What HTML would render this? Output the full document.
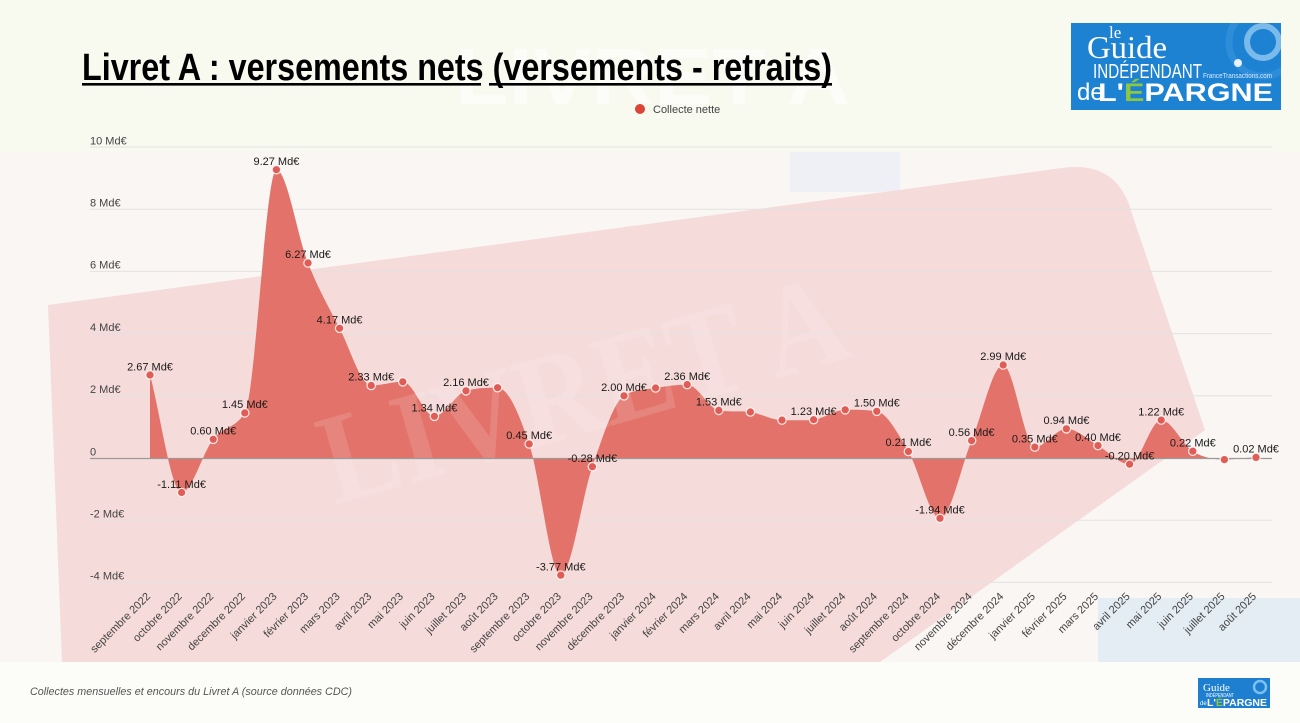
<!DOCTYPE html>
<html><head><meta charset="utf-8">
<style>
html,body{margin:0;padding:0;width:1300px;height:723px;overflow:hidden;background:#fcfdf8}
svg{display:block}
</style></head>
<body>
<svg width="1300" height="723" viewBox="0 0 1300 723" xmlns="http://www.w3.org/2000/svg" font-family="'Liberation Sans', sans-serif">
<defs>
<clipPath id="logoclip"><rect x="1071" y="23" width="210" height="87"/></clipPath>
<clipPath id="slogoclip"><rect x="1198" y="678" width="72" height="30"/></clipPath>
</defs>
<!-- background -->
<rect x="0" y="0" width="1300" height="723" fill="#fcfdf8"/>
<rect x="0" y="152" width="1300" height="510" fill="#f9f6f4"/>
<rect x="790" y="152" width="110" height="40" fill="#eef0f5"/>
<path d="M48,305 L1062,168 Q1118,160 1132,214 L1205,430 L880,662 L62,662 Z" fill="#f5dbd9"/>
<rect x="1098" y="598" width="202" height="64" fill="#e4ecf4"/>
<rect x="0" y="0" width="1300" height="152" fill="#f8f9ef"/>
<text x="455" y="104" font-family="'Liberation Sans', sans-serif" font-weight="bold" font-size="80" fill="#ffffff" opacity="0.6" textLength="395" lengthAdjust="spacingAndGlyphs">LIVRET A</text>

<!-- title -->
<text x="82" y="80" font-weight="bold" font-size="38" fill="#000" textLength="750" lengthAdjust="spacingAndGlyphs">Livret A : versements nets (versements - retraits)</text>
<rect x="82" y="83" width="399" height="2.6" fill="#000"/>
<rect x="489" y="83" width="343" height="2.6" fill="#000"/>

<!-- legend -->
<circle cx="640" cy="109" r="5" fill="#db4437"/>
<text x="653" y="113" font-size="11" fill="#444">Collecte nette</text>

<!-- gridlines -->
<g stroke="#e4e2e0" stroke-width="1">
<line x1="90" y1="147" x2="1272" y2="147"/>
<line x1="90" y1="209.2" x2="1272" y2="209.2"/>
<line x1="90" y1="271.4" x2="1272" y2="271.4"/>
<line x1="90" y1="333.6" x2="1272" y2="333.6"/>
<line x1="90" y1="395.8" x2="1272" y2="395.8"/>
<line x1="90" y1="520.2" x2="1272" y2="520.2"/>
<line x1="90" y1="582.4" x2="1272" y2="582.4"/>
</g>

<!-- y labels -->
<g font-size="11" fill="#444">
<text x="90" y="144.5">10 Md€</text>
<text x="90" y="206.5">8 Md€</text>
<text x="90" y="268.5">6 Md€</text>
<text x="90" y="331">4 Md€</text>
<text x="90" y="393">2 Md€</text>
<text x="90" y="455.5">0</text>
<text x="90" y="517.5">-2 Md€</text>
<text x="90" y="579.5">-4 Md€</text>
</g>

<!-- area -->
<path d="M150,458 L150,375 C160.5,414.2 171.1,492.5 181.6,492.5 C192.1,492.5 202.7,452.6 213.2,439.3 C223.7,426.0 234.3,429.6 244.8,412.9 C255.3,396.2 265.9,169.7 276.4,169.7 C286.9,169.7 297.5,236.6 308,263 C318.5,289.4 329.1,307.9 339.6,328.3 C350.1,348.7 360.7,385.5 371.2,385.5 C381.7,385.5 392.3,381.8 402.8,381.8 C413.3,381.8 423.9,416.3 434.4,416.3 C444.9,416.3 455.5,393.8 466,390.8 C476.5,387.8 487.1,387.7 497.6,387.7 C508.1,387.7 518.7,412.7 529.2,444 C539.7,475.3 550.3,575.2 560.8,575.2 C571.3,575.2 581.9,496.6 592.4,466.7 C602.9,436.8 613.5,402.5 624,395.8 C634.5,389.1 645.1,389.9 655.6,388 C666.1,386.1 676.7,384.6 687.2,384.6 C697.7,384.6 708.3,408.4 718.8,410.4 C729.3,412.4 739.9,410.4 750.4,412 C760.9,413.6 771.5,420.1 782,420.1 C792.5,420.1 803.1,420.7 813.6,419.7 C824.1,418.7 834.7,409.8 845.2,409.8 C855.7,409.8 866.3,409.6 876.8,411.3 C887.3,413 897.9,433.7 908.4,451.5 C918.9,469.3 929.5,518.3 940,518.3 C950.5,518.3 961.1,466.2 971.6,440.6 C982.1,415 992.7,365 1003.2,365 C1013.7,365 1024.3,447.1 1034.8,447.1 C1045.3,447.1 1055.9,428.8 1066.4,428.8 C1076.9,428.8 1087.5,439.7 1098,445.6 C1108.5,451.5 1119.1,464.2 1129.6,464.2 C1140.1,464.2 1150.7,420.1 1161.2,420.1 C1171.7,420.1 1182.3,444.6 1192.8,451.2 C1203.3,457.8 1213.9,459.6 1224.4,459.6 C1234.9,459.6 1245.5,457.4 1256,457.4 L1256,458 Z" fill="#e3736a"/>

<!-- faint background lettering -->
<text transform="translate(335,505) rotate(-16)" font-family="'Liberation Serif', serif" font-weight="bold" font-size="130" fill="#ffffff" opacity="0.13" textLength="540" lengthAdjust="spacingAndGlyphs">LIVRET A</text>

<!-- zero baseline -->
<line x1="90" y1="458.5" x2="1272" y2="458.5" stroke="#9a9a9a" stroke-width="1.3"/>

<!-- points -->
<g fill="#e05c54" stroke="#ffffff" stroke-width="1.2" stroke-opacity="0.85">
<circle cx="150" cy="375" r="4.2"/>
<circle cx="181.6" cy="492.5" r="4.2"/>
<circle cx="213.2" cy="439.3" r="4.2"/>
<circle cx="244.8" cy="412.9" r="4.2"/>
<circle cx="276.4" cy="169.7" r="4.2"/>
<circle cx="308" cy="263" r="4.2"/>
<circle cx="339.6" cy="328.3" r="4.2"/>
<circle cx="371.2" cy="385.5" r="4.2"/>
<circle cx="402.8" cy="381.8" r="4.2"/>
<circle cx="434.4" cy="416.3" r="4.2"/>
<circle cx="466" cy="390.8" r="4.2"/>
<circle cx="497.6" cy="387.7" r="4.2"/>
<circle cx="529.2" cy="444" r="4.2"/>
<circle cx="560.8" cy="575.2" r="4.2"/>
<circle cx="592.4" cy="466.7" r="4.2"/>
<circle cx="624" cy="395.8" r="4.2"/>
<circle cx="655.6" cy="388" r="4.2"/>
<circle cx="687.2" cy="384.6" r="4.2"/>
<circle cx="718.8" cy="410.4" r="4.2"/>
<circle cx="750.4" cy="412" r="4.2"/>
<circle cx="782" cy="420.1" r="4.2"/>
<circle cx="813.6" cy="419.7" r="4.2"/>
<circle cx="845.2" cy="409.8" r="4.2"/>
<circle cx="876.8" cy="411.3" r="4.2"/>
<circle cx="908.4" cy="451.5" r="4.2"/>
<circle cx="940" cy="518.3" r="4.2"/>
<circle cx="971.6" cy="440.6" r="4.2"/>
<circle cx="1003.2" cy="365" r="4.2"/>
<circle cx="1034.8" cy="447.1" r="4.2"/>
<circle cx="1066.4" cy="428.8" r="4.2"/>
<circle cx="1098" cy="445.6" r="4.2"/>
<circle cx="1129.6" cy="464.2" r="4.2"/>
<circle cx="1161.2" cy="420.1" r="4.2"/>
<circle cx="1192.8" cy="451.2" r="4.2"/>
<circle cx="1224.4" cy="459.6" r="4.2"/>
<circle cx="1256" cy="457.4" r="4.2"/>
</g>

<!-- data labels -->
<g font-size="11" fill="#1a1a1a" text-anchor="middle">
<text x="150" y="370.5">2.67 Md€</text>
<text x="181.6" y="488">-1.11 Md€</text>
<text x="213.2" y="434.5">0.60 Md€</text>
<text x="244.8" y="408">1.45 Md€</text>
<text x="276.4" y="165">9.27 Md€</text>
<text x="308" y="258">6.27 Md€</text>
<text x="339.6" y="323.5">4.17 Md€</text>
<text x="371.2" y="380.5">2.33 Md€</text>
<text x="434.4" y="411.5">1.34 Md€</text>
<text x="466" y="386">2.16 Md€</text>
<text x="529.2" y="439">0.45 Md€</text>
<text x="560.8" y="570.5">-3.77 Md€</text>
<text x="592.4" y="462">-0.28 Md€</text>
<text x="624" y="391">2.00 Md€</text>
<text x="687.2" y="380">2.36 Md€</text>
<text x="718.8" y="405.5">1.53 Md€</text>
<text x="813.6" y="415">1.23 Md€</text>
<text x="876.8" y="406.5">1.50 Md€</text>
<text x="908.4" y="446">0.21 Md€</text>
<text x="940" y="513.5">-1.94 Md€</text>
<text x="971.6" y="436">0.56 Md€</text>
<text x="1003.2" y="360">2.99 Md€</text>
<text x="1034.8" y="442.5">0.35 Md€</text>
<text x="1066.4" y="424">0.94 Md€</text>
<text x="1098" y="441">0.40 Md€</text>
<text x="1129.6" y="459.5">-0.20 Md€</text>
<text x="1161.2" y="415.5">1.22 Md€</text>
<text x="1192.8" y="446.5">0.22 Md€</text>
<text x="1256" y="452.5">0.02 Md€</text>
</g>

<!-- x labels -->
<g font-size="11" fill="#444" text-anchor="end">
<text transform="translate(151,597) rotate(-45)">septembre 2022</text>
<text transform="translate(182.6,597) rotate(-45)">octobre 2022</text>
<text transform="translate(214.2,597) rotate(-45)">novembre 2022</text>
<text transform="translate(245.8,597) rotate(-45)">decembre 2022</text>
<text transform="translate(277.4,597) rotate(-45)">janvier 2023</text>
<text transform="translate(309,597) rotate(-45)">février 2023</text>
<text transform="translate(340.6,597) rotate(-45)">mars 2023</text>
<text transform="translate(372.2,597) rotate(-45)">avril 2023</text>
<text transform="translate(403.8,597) rotate(-45)">mai 2023</text>
<text transform="translate(435.4,597) rotate(-45)">juin 2023</text>
<text transform="translate(467,597) rotate(-45)">juillet 2023</text>
<text transform="translate(498.6,597) rotate(-45)">août 2023</text>
<text transform="translate(530.2,597) rotate(-45)">septembre 2023</text>
<text transform="translate(561.8,597) rotate(-45)">octobre 2023</text>
<text transform="translate(593.4,597) rotate(-45)">novembre 2023</text>
<text transform="translate(625,597) rotate(-45)">décembre 2023</text>
<text transform="translate(656.6,597) rotate(-45)">janvier 2024</text>
<text transform="translate(688.2,597) rotate(-45)">février 2024</text>
<text transform="translate(719.8,597) rotate(-45)">mars 2024</text>
<text transform="translate(751.4,597) rotate(-45)">avril 2024</text>
<text transform="translate(783,597) rotate(-45)">mai 2024</text>
<text transform="translate(814.6,597) rotate(-45)">juin 2024</text>
<text transform="translate(846.2,597) rotate(-45)">juillet 2024</text>
<text transform="translate(877.8,597) rotate(-45)">août 2024</text>
<text transform="translate(909.4,597) rotate(-45)">septembre 2024</text>
<text transform="translate(941,597) rotate(-45)">octobre 2024</text>
<text transform="translate(972.6,597) rotate(-45)">novembre 2024</text>
<text transform="translate(1004.2,597) rotate(-45)">décembre 2024</text>
<text transform="translate(1035.8,597) rotate(-45)">janvier 2025</text>
<text transform="translate(1067.4,597) rotate(-45)">février 2025</text>
<text transform="translate(1099,597) rotate(-45)">mars 2025</text>
<text transform="translate(1130.6,597) rotate(-45)">avril 2025</text>
<text transform="translate(1162.2,597) rotate(-45)">mai 2025</text>
<text transform="translate(1193.8,597) rotate(-45)">juin 2025</text>
<text transform="translate(1225.4,597) rotate(-45)">juillet 2025</text>
<text transform="translate(1257,597) rotate(-45)">août 2025</text>
</g>

<!-- caption -->
<text x="30" y="695" font-size="11" font-style="italic" fill="#555" textLength="322" lengthAdjust="spacingAndGlyphs">Collectes mensuelles et encours du Livret A (source données CDC)</text>

<!-- big logo -->
<g>
<rect x="1071" y="23" width="210" height="87" fill="#1e82d3"/>
<g clip-path="url(#logoclip)">
<circle cx="1263" cy="42" r="34" fill="none" stroke="#3d98e0" stroke-width="7" opacity="0.5"/>
<circle cx="1263" cy="42" r="16" fill="none" stroke="#8cc6f0" stroke-width="6" opacity="0.85"/>
</g>
<text x="1109" y="38" font-family="'Liberation Serif', serif" font-size="17" fill="#fff">le</text>
<text x="1087" y="58" font-family="'Liberation Serif', serif" font-size="32" fill="#fff" textLength="80" lengthAdjust="spacingAndGlyphs">Guide</text>
<text x="1093" y="78" font-size="20" fill="#fff" textLength="109" lengthAdjust="spacingAndGlyphs">INDÉPENDANT</text>
<circle cx="1238" cy="63" r="4" fill="#e8f2ff"/>
<text x="1203" y="78" font-size="7" fill="#d9eaff" textLength="69" lengthAdjust="spacingAndGlyphs">FranceTransactions.com</text>
<text x="1077" y="100" font-size="24" fill="#fff">de</text>
<text x="1098" y="101" font-size="25" font-weight="bold" fill="#fff" textLength="175" lengthAdjust="spacingAndGlyphs">L'<tspan fill="#8dc63f">É</tspan>PARGNE</text>
</g>

<!-- small logo -->
<g>
<rect x="1198" y="678" width="72" height="30" fill="#1e7fd0"/>
<g clip-path="url(#slogoclip)">
<circle cx="1260" cy="687" r="6" fill="none" stroke="#7cc0f0" stroke-width="2.5"/>
</g>
<text x="1203" y="691" font-family="'Liberation Serif', serif" font-size="11" fill="#fff">Guide</text>
<text x="1206" y="697" font-size="5" fill="#fff" textLength="28" lengthAdjust="spacingAndGlyphs">INDÉPENDANT</text>
<text x="1200" y="705" font-size="6" fill="#fff">de</text>
<text x="1207" y="706" font-size="10" font-weight="bold" fill="#fff" textLength="60" lengthAdjust="spacingAndGlyphs">L'<tspan fill="#8dc63f">É</tspan>PARGNE</text>
</g>
</svg>
</body></html>
